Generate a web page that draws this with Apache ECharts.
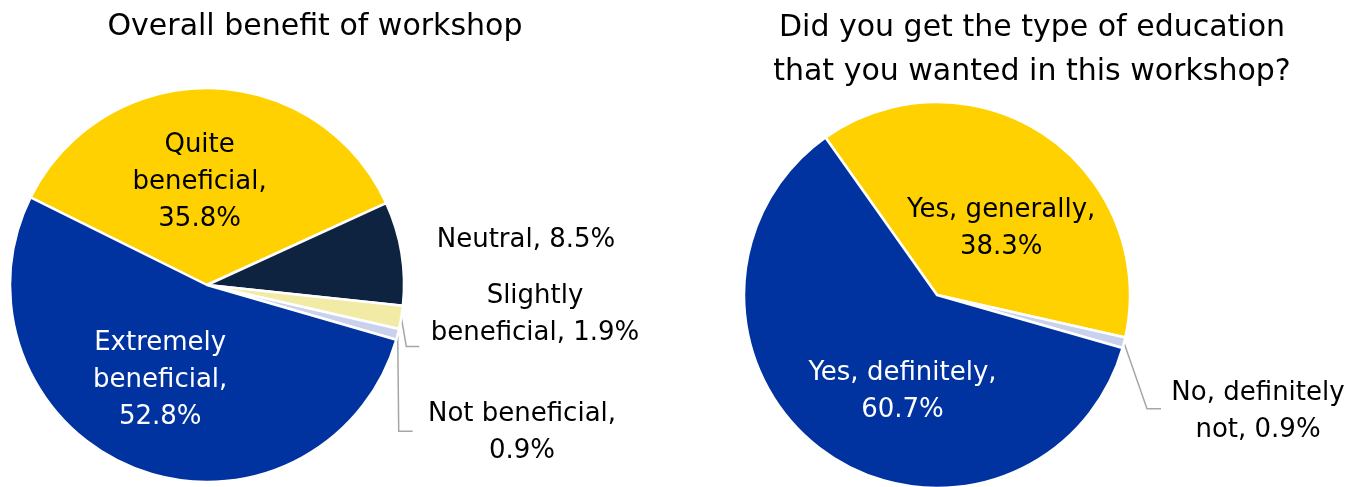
<!DOCTYPE html>
<html>
<head>
<meta charset="utf-8">
<script src="https://cdn.jsdelivr.net/npm/echarts@6/dist/echarts.min.js"></script>
<style>
html,body{margin:0;padding:0;background:#fff;}
#chart{width:1368px;height:487px;}
</style>
</head>
<body>
<div id="chart"></div>
<script>
// ---- Data ----
const leftTitle = 'Overall benefit of workshop';
const leftCategories = ['Quite beneficial', 'Neutral', 'Slightly beneficial', 'Not beneficial', 'Extremely beneficial'];
const leftLabelNames = ['Quite\nbeneficial', 'Neutral', 'Slightly\nbeneficial', 'Not beneficial', 'Extremely\nbeneficial'];
const leftLabelSep = ['\n', ' ', ' ', '\n', '\n'];
const leftValues = [35.8, 8.5, 1.9, 0.9, 52.8];
const leftColors = ['#FFD100', '#0E2340', '#F2EBA5', '#C9D1EC', '#0033A0'];
const leftTextColors = ['#000', '#000', '#000', '#000', '#fff'];

const rightTitle = 'Did you get the type of education\nthat you wanted in this workshop?';
const rightCategories = ['Yes, generally', 'No, definitely not', 'Yes, definitely'];
const rightLabelNames = ['Yes, generally', 'No, definitely\nnot', 'Yes, definitely'];
const rightLabelSep = ['\n', ' ', '\n'];
const rightValues = [38.3, 0.9, 60.7];
const rightColors = ['#FFD100', '#C9D1EC', '#0033A0'];
const rightTextColors = ['#000', '#000', '#fff'];

const FONT = '"DejaVu Sans", "Liberation Sans", Arial, sans-serif';

// label placement (layout only)
const leftLayout = [
  {dx: -9, dy: -1},
  {x: 526, y: 240, noLine: true},
  {x: 535, y: 315, elbow: [[5, 29], [18, 29]]},
  {x: 522, y: 433, elbow: [[1, 97], [15, 97]]},
  {dx: -10, dy: 1}
];
const rightLayout = [
  {dx: 9, dy: 17},
  {x: 1258, y: 412, elbow: [[23, 66], [37, 66]]},
  {dx: 23, dy: 16}
];

function buildData(cats, labelNames, seps, vals, colors, textColors, layout) {
  return cats.map((c, i) => {
    const outside = layout[i].x !== undefined;
    return {
      name: c,
      value: vals[i],
      itemStyle: {color: colors[i]},
      label: {
        position: outside ? 'outside' : 'inside',
        color: textColors[i],
        formatter: labelNames[i] + ',' + seps[i] + vals[i].toFixed(1) + '%'
      },
      labelLine: {show: outside && !layout[i].noLine}
    };
  });
}

function makeLayout(layout) {
  return function (params) {
    const l = layout[params.dataIndex];
    if (l.x === undefined) {
      return {dx: l.dx, dy: l.dy};
    }
    const res = {x: l.x, y: l.y, align: 'center', verticalAlign: 'middle'};
    if (l.elbow && params.labelLinePoints) {
      const p0 = params.labelLinePoints[0];
      res.labelLinePoints = [
        [p0[0], p0[1]],
        [p0[0] + l.elbow[0][0], p0[1] + l.elbow[0][1]],
        [p0[0] + l.elbow[1][0], p0[1] + l.elbow[1][1]]
      ];
    }
    return res;
  };
}

const chart = echarts.init(document.getElementById('chart'), null, {renderer: 'canvas'});

const baseSeries = {
  type: 'pie',
  clockwise: true,
  avoidLabelOverlap: false,
  animation: false,
  itemStyle: {borderColor: '#fff', borderWidth: 2.5},
  label: {
    show: true,
    fontFamily: FONT,
    fontSize: 26,
    lineHeight: 37,
    align: 'center'
  },
  labelLine: {
    length: 10,
    length2: 10,
    smooth: false,
    lineStyle: {color: '#A6A6A6', width: 1.5}
  },
  emphasis: {disabled: true}
};

chart.setOption({
  backgroundColor: '#fff',
  graphic: [
    {
      type: 'text',
      style: {
        text: leftTitle, x: 315, y: 27, align: 'center', verticalAlign: 'middle',
        font: '30px ' + FONT, fill: '#000'
      }
    },
    {
      type: 'text',
      style: {
        text: rightTitle, x: 1032, y: 50, align: 'center', verticalAlign: 'middle',
        font: '30px ' + FONT, lineHeight: 44, fill: '#000'
      }
    }
  ],
  series: [
    Object.assign({}, baseSeries, {
      name: 'left',
      center: [207, 285],
      radius: 197,
      startAngle: 153.6,
      labelLayout: makeLayout(leftLayout),
      data: buildData(leftCategories, leftLabelNames, leftLabelSep, leftValues, leftColors, leftTextColors, leftLayout)
    }),
    Object.assign({}, baseSeries, {
      name: 'right',
      center: [937, 295],
      radius: 193,
      startAngle: 125.3,
      labelLayout: makeLayout(rightLayout),
      data: buildData(rightCategories, rightLabelNames, rightLabelSep, rightValues, rightColors, rightTextColors, rightLayout)
    })
  ]
});
</script>
</body>
</html>
